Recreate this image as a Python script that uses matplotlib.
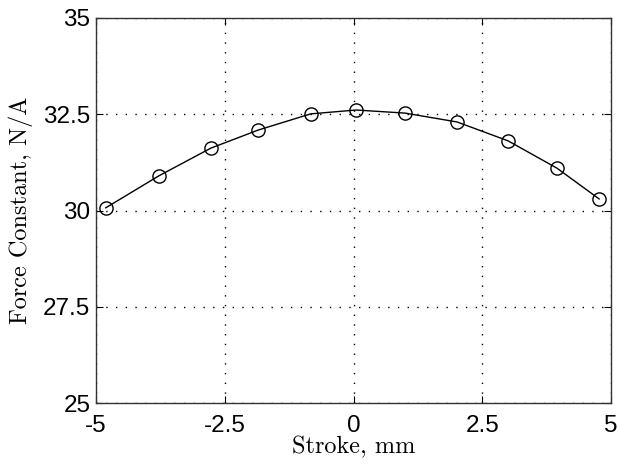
import numpy as np
import matplotlib
matplotlib.use("Agg")
from matplotlib import pyplot as plt

# values
stroke = [-4.81, -3.78, -2.77, -1.85, -0.83, 0.05, 1.0, 2.01, 3.0, 3.95, 4.77]
force_const = [30.07, 30.9, 31.62, 32.09, 32.51, 32.61, 32.53, 32.30, 31.81, 31.10, 30.3]
xticks = [-5, -2.5, 0, 2.5, 5]
yticks = [25, 27.5, 30, 32.5, 35]

fig = plt.figure(figsize=(6.19, 4.65), dpi=100)
ax = fig.add_axes([0.1551, 0.1333, 0.832, 0.828])

ax.plot(stroke, force_const, color='black', lw=1.0, marker='o', ms=9.5,
        mfc='none', mec='black', mew=1.0)

ax.set_xlim(-5, 5)
ax.set_ylim(25, 35)
ax.set_xticks(xticks)
ax.set_yticks(yticks)
ax.set_xticklabels(['%g' % t for t in xticks], family='Liberation Sans', fontsize=17.5)
ax.set_yticklabels(['%g' % t for t in yticks], family='Liberation Sans', fontsize=17.5)
ax.tick_params(direction='in', top=True, right=True, length=5, width=0.8)
ax.tick_params(axis='x', pad=8.5)
ax.tick_params(axis='y', pad=4)

ax.grid(True, color='black', linestyle=(0, (1, 6)), lw=1.0)

for s in ax.spines.values():
    s.set_linewidth(1.0)
    s.set_color('#333333')

ax.set_xlabel('Stroke, mm', family='cmr10', fontsize=17.5, va='center')
ax.set_ylabel('Force Constant, N/A', family='cmr10', fontsize=17.5, va='center')
ax.xaxis.set_label_coords(0.5, -0.114)
ax.yaxis.set_label_coords(-0.147, 0.5)

fig.savefig('out.png', dpi=100)
